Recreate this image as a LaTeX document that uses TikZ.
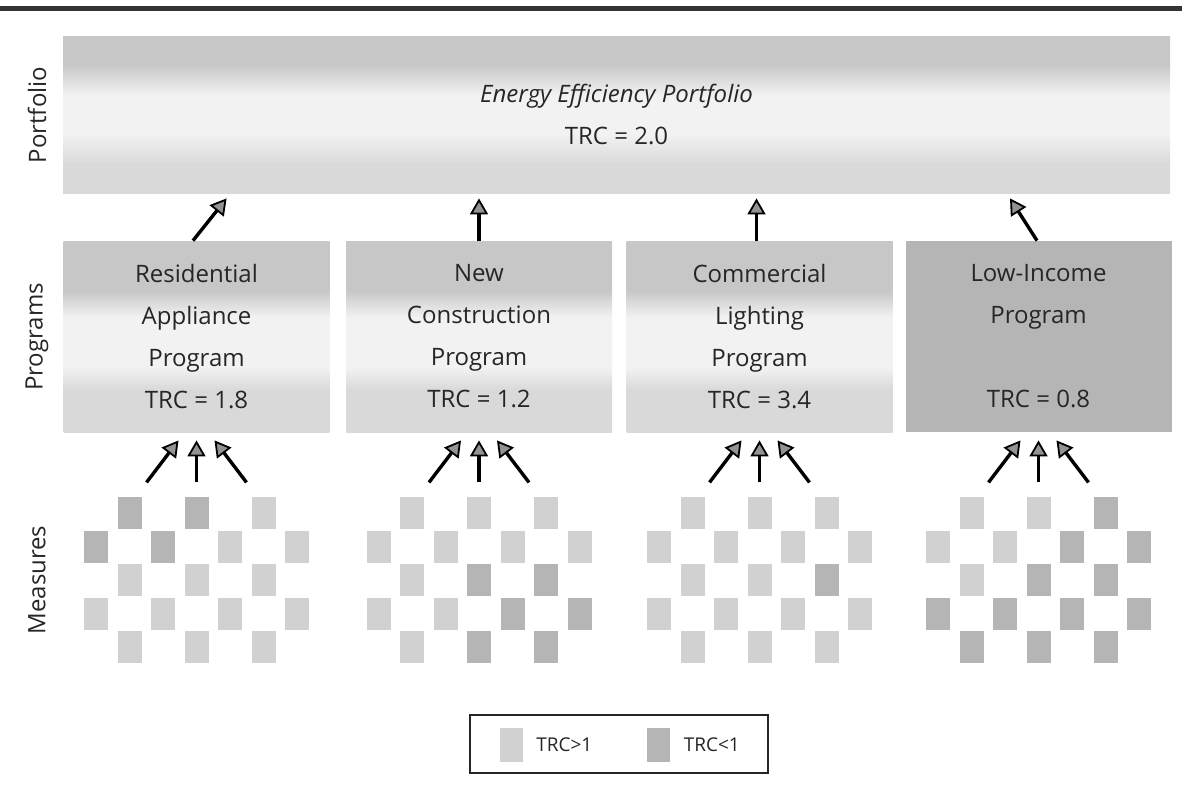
\documentclass[tikz,border=0pt]{standalone}
\usepackage{fontspec}
\setmainfont{Open Sans}
\usetikzlibrary{calc, positioning, arrows.meta}

% greys for the mottled fills
\colorlet{shdark}{gray!44}
\colorlet{shmid}{gray!30}
\colorlet{shlight}{gray!10}
\pgfdeclareverticalshading{portshade}{100bp}{color(0bp)=(shmid); color(25bp)=(shmid); color(34bp)=(shmid); color(44bp)=(shlight); color(56bp)=(shlight); color(66bp)=(shdark); color(75bp)=(shdark); color(100bp)=(shdark)}
\pgfdeclareverticalshading{progshade}{100bp}{color(0bp)=(shmid); color(25bp)=(shmid); color(36bp)=(shmid); color(42bp)=(shlight); color(55bp)=(shlight); color(62bp)=(shdark); color(75bp)=(shdark); color(100bp)=(shdark)}

\begin{document}
\begin{tikzpicture}[x=0.5pt, y=0.5pt,
    txt/.style={font=\fontsize{12}{21}\selectfont, text=black!85},
    progbase/.style={txt, minimum width=133pt, minimum height=95.5pt, inner sep=0pt, align=center},
    progbox/.style={progbase, shading=progshade},
    lowbox/.style={progbase, fill=gray!58},
    upar/.style={line width=1.7pt, -{Triangle[length=8pt, width=9pt, fill=gray!85, line width=0.9pt]}},
    hisq/.style={fill=gray!36},
    losq/.style={fill=gray!58}]

        \useasboundingbox (0,0) rectangle (1182,-811);

        % rule along the top of the page
        \draw[line width=2.5pt, black!80] (0,-8) -- (1182,-8);

        % portfolio level
        \node[txt, shading=portshade, minimum width=553.5pt, minimum height=78.5pt, inner sep=0pt, align=center] (port) at (616.5,-114.5) {\textit{Energy Efficiency Portfolio}\\TRC = 2.0};

        % program level
        \node[progbox] (res) at (196.5,-336.5) {Residential\\Appliance\\Program\\TRC = 1.8};
        \node[progbox] (newc) at (479,-336.5) {New\\Construction\\Program\\TRC = 1.2};
        \node[progbox] (coml) at (759.5,-336.5) {Commercial\\Lighting\\Program\\TRC = 3.4};
        \node[lowbox] (lowi) at (1038.5,-336.5) {Low-Income\\Program\\[21pt]TRC = 0.8};

        % level names
        \node[txt, rotate=90] (lport) at (37,-115) {Portfolio};
        \node[txt, rotate=90] (lprog) at (37,-337) {Programs};
        \node[txt, rotate=90] (lmeas) at (37,-580) {Measures};

        % programs feed the portfolio
        \draw[upar] ($(res.north)+(-3.5,0)$) -- ($(port.south west)+(164,-5)$);
        \draw[upar] (newc.north) -- ($(newc.north |- port.south)+(0,-5)$);
        \draw[upar] ($(coml.north)+(-3,0)$) -- ($(coml.north |- port.south)+(-3,-5)$);
        \draw[upar] ($(lowi.north)+(-1.5,0)$) -- ($(lowi.north |- port.south)+(-28.5,-5)$);

        % measures under each program, dark ones have TRC<1
        \foreach \g/\dk in {res/{2/1,4/1,1/2,3/2}, newc/{4/3,6/3,5/4,7/4,4/5,6/5}, coml/{6/3}, lowi/{6/1,5/2,7/2,4/3,6/3,1/4,3/4,5/4,7/4,2/5,4/5,6/5}} {
                \coordinate (\g-m) at ($(\g.south)+(0,-148)$);
                \foreach \k/\r in {2/1,4/1,6/1,1/2,3/2,5/2,7/2,2/3,4/3,6/3,1/4,3/4,5/4,7/4,2/5,4/5,6/5}
                        \fill[hisq] ($(\g-m)+({(\k-4)*33.5-12},{(3-\r)*33.5+16})$) rectangle ++(24,-32);
                \foreach \k/\r in \dk
                        \fill[losq] ($(\g-m)+({(\k-4)*33.5-12},{(3-\r)*33.5+16})$) rectangle ++(24,-32);
                \coordinate (\g-a) at ($(\g.south)+(-50,-50)$);
                \coordinate (\g-b) at ($(\g.south)+(0,-50)$);
                \coordinate (\g-c) at ($(\g.south)+(50,-50)$);
                \draw[upar] (\g-a) -- ($(\g.south)+(-18,-8)$);
                \draw[upar] (\g-b) -- ($(\g.south)+(0,-8)$);
                \draw[upar] (\g-c) -- ($(\g.south)+(18,-8)$);
        }

        % legend
        \node[draw=black!85, line width=0.75pt, minimum width=149pt, minimum height=29pt, inner sep=0pt] (legend) at (619,-744) {};
        \node[hisq, minimum width=11.5pt, minimum height=17pt, inner sep=0pt] (lhi) at (511,-744.5) {};
        \node[txt, font=\fontsize{9.5}{11}\selectfont, inner sep=0pt, right=6.5pt of lhi] (lhitxt) {TRC>1};
        \node[losq, minimum width=11.5pt, minimum height=17pt, inner sep=0pt] (llo) at (658.5,-744.5) {};
        \node[txt, font=\fontsize{9.5}{11}\selectfont, inner sep=0pt, right=6.5pt of llo] (llotxt) {TRC<1};

\end{tikzpicture}
\end{document}
